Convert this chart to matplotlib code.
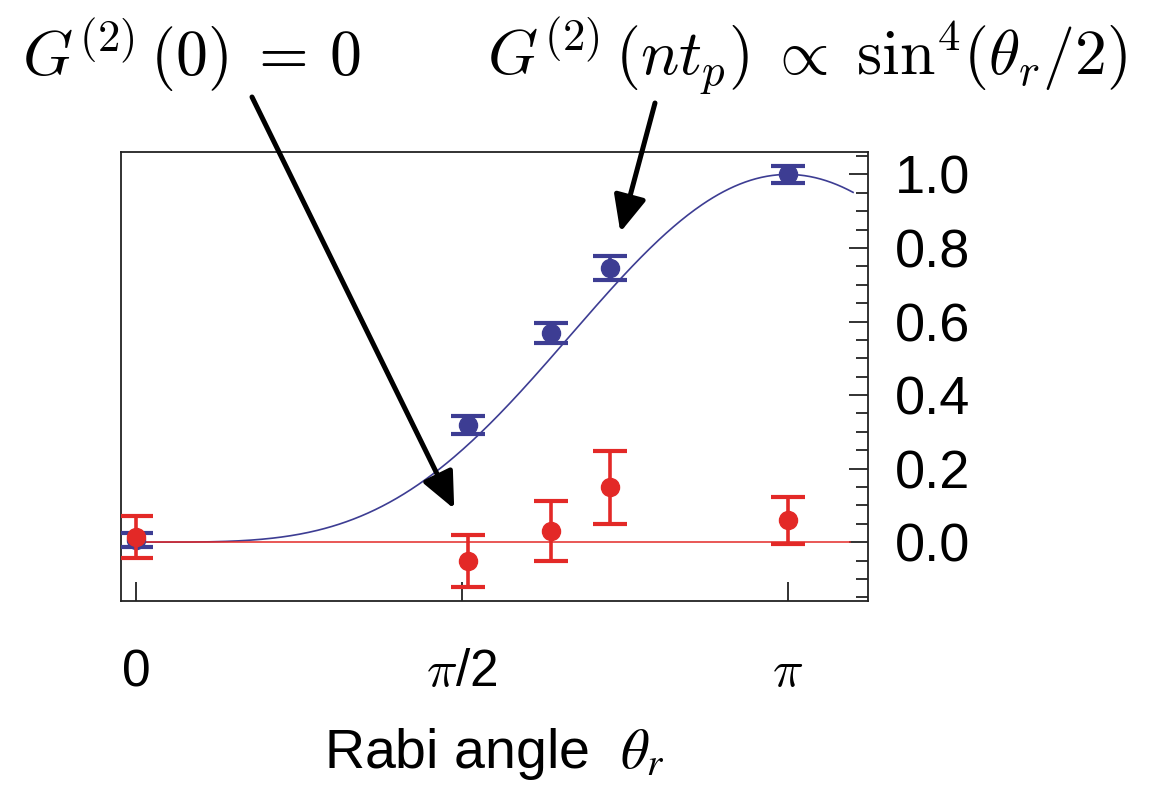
import numpy as np
import matplotlib
matplotlib.use("Agg")
import matplotlib.pyplot as plt
from matplotlib.ticker import FixedLocator
from matplotlib.patches import ArrowStyle

# Rabi angles (rad) of the measured points
theta = [0.0, 1.60, 2.00, 2.285, np.pi]

# Normalised G2(n t_p) (blue) and G2(0) (red) with their error bars
g2_ntp = [0.006, 0.319, 0.568, 0.745, 1.000]
g2_ntp_err = [0.018, 0.024, 0.027, 0.032, 0.023]
g2_zero = [0.015, -0.051, 0.031, 0.149, 0.059]
g2_zero_err = [0.057, 0.070, 0.081, 0.100, 0.064]

xtick_vals = [0.0, np.pi / 2, np.pi]
xtick_labels = ["0", r"$\pi$/2", r"$\pi$"]
ytick_vals = [0.0, 0.2, 0.4, 0.6, 0.8, 1.0]
ytick_labels = ["0.0", "0.2", "0.4", "0.6", "0.8", "1.0"]

BLUE = "#3d3d93"
RED = "#e32927"
INK = "#222222"
SANS = "Liberation Sans"

plt.rcParams["font.family"] = [SANS, "DejaVu Sans"]

W, H = 1153, 789
fig = plt.figure(figsize=(W / 100, H / 100), dpi=100)
ax = fig.add_axes([121 / W, 1 - 601 / H, 747 / W, 449 / H])


def fig_px(x, y):
    """Figure fraction from pixel position measured from the top-left."""
    return (x / W, 1 - y / H)


# theory curves
th = np.linspace(0, 3.457, 400)
ax.plot(th, np.sin(th / 2) ** 4, color=BLUE, lw=1.2, zorder=2)
ax.plot([0, 3.44], [0, 0], color=RED, lw=1.1, zorder=3)

ebkw = dict(fmt="o", ms=13, elinewidth=2.6, capsize=12, capthick=3.0)
ax.errorbar(theta, g2_ntp, yerr=g2_ntp_err, color=BLUE, zorder=4, **ebkw)
ax.errorbar(theta, g2_zero, yerr=g2_zero_err, color=RED, zorder=5, **ebkw)

ax.set_xlim(-0.0725, 3.529)
ax.set_ylim(-0.16, 1.061)

for s in ax.spines.values():
    s.set_linewidth(1.3)
    s.set_color(INK)

# x ticks: bottom only, pointing inward
ax.xaxis.set_major_locator(FixedLocator(xtick_vals))
ax.set_xticklabels(xtick_labels, fontsize=37, math_fontfamily="cm")
ax.tick_params(axis="x", direction="in", length=14, width=1.3, pad=34,
               top=False, bottom=True, color=INK)

# y ticks on the right side
ax.yaxis.tick_right()
ax.yaxis.set_major_locator(FixedLocator(ytick_vals))
ax.set_yticklabels(ytick_labels, fontsize=39)
ax.yaxis.set_minor_locator(FixedLocator(np.round(np.arange(-0.15, 1.06, 0.05), 2)))
ax.tick_params(axis="y", which="major", direction="in", length=14, width=1.3,
               pad=19, left=False, right=True, color=INK)
ax.tick_params(axis="y", which="minor", direction="in", length=9, width=1.3,
               left=False, right=True, color=INK)

ax.set_xlabel(r"Rabi angle  $\theta_r$", fontsize=40, labelpad=21,
              math_fontfamily="stix")

# formula labels
fig.text(*fig_px(22, 76), r"$G^{(2)}\,(0)\;=\,0$", fontsize=46,
         math_fontfamily="cm", ha="left", va="baseline")
fig.text(*fig_px(487, 76),
         r"$G^{(2)}\,(nt_p)\;\propto\;\mathrm{sin}^4(\theta_r/2)$",
         fontsize=46, math_fontfamily="cm", ha="left", va="baseline")

# arrows from the labels to the curves
arrow = ArrowStyle("-|>", head_length=1.0, head_width=0.45)
akw = dict(arrowstyle=arrow, color="black", lw=3.6, shrinkA=0, shrinkB=0,
           mutation_scale=22)
ax.annotate("", xy=(1.534, 0.0905), xycoords="data",
            xytext=fig_px(252, 97), textcoords="figure fraction",
            arrowprops=akw)
ax.annotate("", xy=(2.335, 0.843), xycoords="data",
            xytext=fig_px(655, 103), textcoords="figure fraction",
            arrowprops=akw)

fig.savefig("out.png", dpi=100)
